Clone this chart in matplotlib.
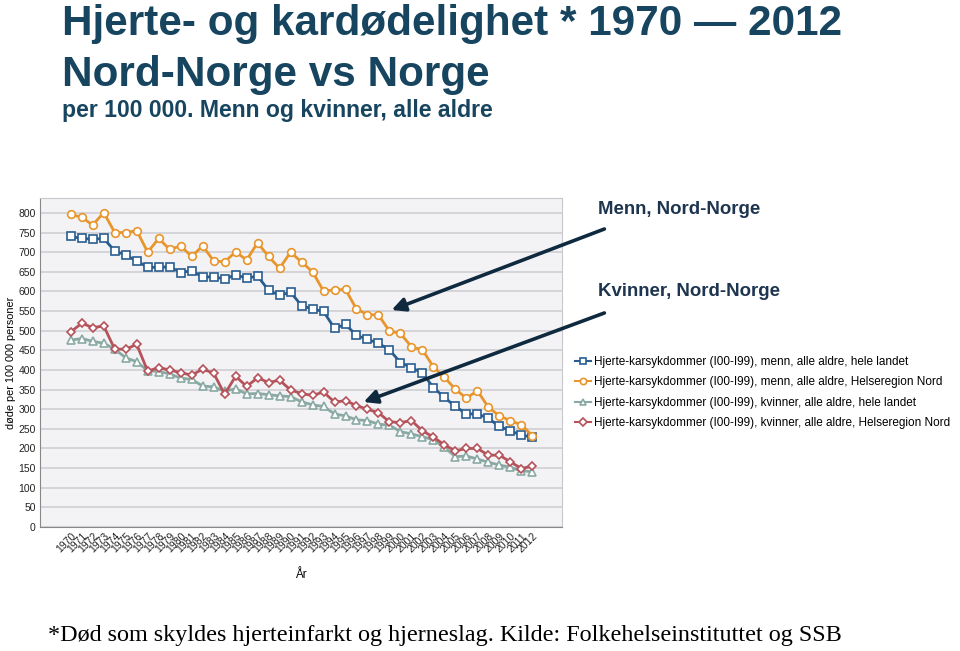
import matplotlib
matplotlib.use('Agg')
import matplotlib.pyplot as plt

years = list(range(1970, 2013))

menn_landet = [740, 735, 733, 735, 703, 693, 677, 662, 661, 663, 648, 653, 637, 637, 632,
               642, 634, 639, 603, 590, 598, 564, 555, 549, 506, 516, 488, 478, 468, 451,
               419, 406, 392, 355, 330, 307, 288, 288, 277, 256, 245, 234, 229]
menn_nord = [796, 789, 769, 801, 750, 750, 755, 700, 735, 707, 716, 689, 716, 678, 675,
             701, 680, 724, 689, 659, 700, 675, 650, 601, 604, 605, 555, 541, 540, 499,
             493, 459, 451, 408, 381, 351, 328, 347, 305, 283, 271, 260, 233]
kvinner_landet = [476, 480, 473, 468, 453, 431, 421, 398, 396, 390, 379, 376, 359, 357, 346,
                  352, 339, 340, 337, 334, 332, 319, 311, 307, 288, 283, 273, 271, 262, 259,
                  243, 237, 230, 222, 203, 179, 181, 173, 165, 158, 152, 143, 141]
kvinner_nord = [497, 519, 508, 512, 453, 453, 465, 397, 406, 400, 393, 387, 402, 392, 338,
                384, 358, 380, 368, 374, 349, 340, 335, 344, 318, 322, 309, 300, 291, 268,
                266, 271, 245, 229, 209, 194, 200, 200, 183, 183, 166, 149, 155]

labels = ['Hjerte-karsykdommer (I00-I99), menn, alle aldre, hele landet',
          'Hjerte-karsykdommer (I00-I99), menn, alle aldre, Helseregion Nord',
          'Hjerte-karsykdommer (I00-I99), kvinner, alle aldre, hele landet',
          'Hjerte-karsykdommer (I00-I99), kvinner, alle aldre, Helseregion Nord']

title_col = '#17455F'
fig = plt.figure(figsize=(9.6, 6.51), dpi=100)
fig.patch.set_facecolor('white')

fig.text(62 / 960, 1 - 35 / 651, 'Hjerte- og kardødelighet * 1970 \u2014 2012', fontsize=30.4,
         fontweight='bold', color=title_col, family='Liberation Sans', va='baseline')
fig.text(62 / 960, 1 - 86 / 651, 'Nord-Norge vs Norge', fontsize=30.4,
         fontweight='bold', color=title_col, family='Liberation Sans', va='baseline')
fig.text(62 / 960, 1 - 117 / 651, 'per 100 000. Menn og kvinner, alle aldre', fontsize=16.6,
         fontweight='bold', color=title_col, family='Liberation Sans', va='baseline')

ax = fig.add_axes([40 / 960, 1 - 527 / 651, 522 / 960, 329 / 651])
ax.set_facecolor('#F3F3F6')

series = [menn_landet, menn_nord, kvinner_landet, kvinner_nord]
colors = ['#2A5D8F', '#E8952C', '#8AA9A2', '#B5525A']
markers = ['s', 'o', '^', 'D']
msizes = [6, 5.5, 6, 4.5]
for idx in range(len(series)):
    ax.plot(years, series[idx], color=colors[idx], marker=markers[idx], markersize=msizes[idx],
            markerfacecolor='white', markeredgecolor=colors[idx], markeredgewidth=1.2,
            linewidth=2.0, label=labels[idx])

ax.set_xlim(1967.2, 2014.7)
ax.set_ylim(0, 838)
ax.set_yticks(range(0, 850, 50))
ax.yaxis.grid(True, color='#CFCFD4', linewidth=1.2)
ax.set_axisbelow(True)
ax.set_xticks(years)
ax.set_xticklabels([str(y) for y in years], rotation=45, ha='right', rotation_mode='anchor',
                   fontsize=7.5, family='Liberation Sans')
for t in ax.get_yticklabels():
    t.set_fontsize(7.5)
    t.set_family('Liberation Sans')
ax.tick_params(axis='both', length=0, pad=3, colors='#222222')
for s in ax.spines.values():
    s.set_color('#C8C8CC')
ax.spines['left'].set_color('#888888')
ax.spines['bottom'].set_color('#888888')
ax.set_ylabel('døde per 100 000 personer', fontsize=7.8, family='Liberation Sans', labelpad=2)
ax.set_xlabel('År', fontsize=8.5, family='Liberation Sans', labelpad=10)

leg = fig.legend(loc='upper left', bbox_to_anchor=(570 / 960, 1 - 351 / 651), frameon=False,
                 prop={'family': 'Liberation Sans', 'size': 8.5}, handlelength=1.4,
                 handletextpad=0.2, labelspacing=0.72, borderaxespad=0)
for h in leg.legend_handles:
    h.set_markersize(4.5)
    h.set_linewidth(1.5)

ann_col = '#1E3550'
fig.text(598 / 960, 1 - 210 / 651, 'Menn, Nord-Norge', fontsize=13.4, color=ann_col,
         fontweight='bold', family='Liberation Sans', va='center')
fig.text(598 / 960, 1 - 292 / 651, 'Kvinner, Nord-Norge', fontsize=13.4, color=ann_col,
         fontweight='bold', family='Liberation Sans', va='center')
arrow_col = '#0F2A3F'
fig.patches.append(matplotlib.patches.FancyArrowPatch(
    (607 / 960, 1 - 228 / 651), (389 / 960, 1 - 311 / 651), transform=fig.transFigure,
    arrowstyle='-|>,head_length=8,head_width=4', color=arrow_col, linewidth=2.6))
fig.patches.append(matplotlib.patches.FancyArrowPatch(
    (607 / 960, 1 - 312 / 651), (361 / 960, 1 - 403 / 651), transform=fig.transFigure,
    arrowstyle='-|>,head_length=8,head_width=4', color=arrow_col, linewidth=2.6))

fig.text(48 / 960, 1 - 636 / 651,
         '*Død som skyldes hjerteinfarkt og hjerneslag. Kilde: Folkehelseinstituttet og SSB',
         fontsize=17.4, color='black', family='Liberation Serif', va='center')

fig.savefig('out.png', dpi=100)
